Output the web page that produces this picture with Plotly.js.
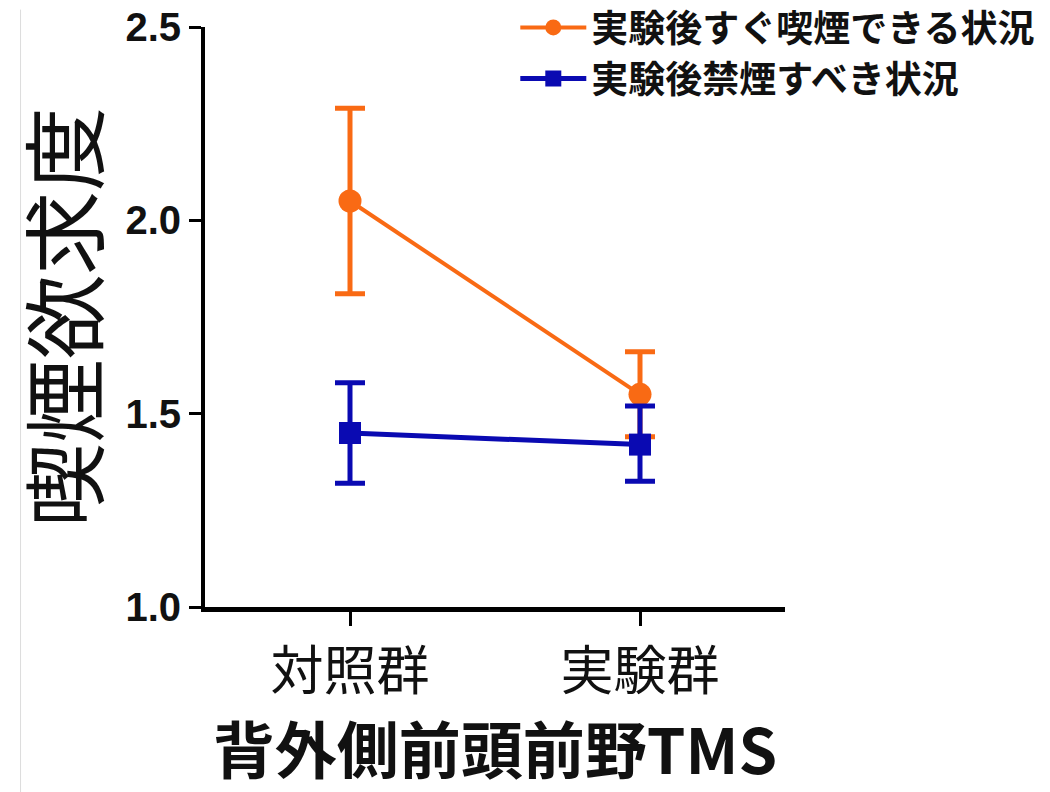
<!DOCTYPE html>
<html>
<head>
<meta charset="utf-8">
<script src="https://cdn.plot.ly/plotly-3.0.1.min.js"></script>
<style>html,body{margin:0;padding:0;background:#fff;}#chart{width:1050px;height:792px;}</style>
</head>
<body>
<div id="chart"></div>
<script>
const categories = ['対照群', '実験群'];
const seriesNames = ['実験後すぐ喫煙できる状況', '実験後禁煙すべき状況'];
const smokeNowMean = [2.05, 1.55];
const smokeNowErrUp = [0.24, 0.11];
const smokeNowErrDown = [0.24, 0.11];
const abstainMean = [1.45, 1.42];
const abstainErrUp = [0.13, 0.10];
const abstainErrDown = [0.13, 0.095];
const yTickVals = [1.0, 1.5, 2.0, 2.5];

const orange = '#F96A14';
const blue = '#0A0AB2';
const cjk = '"Noto Sans CJK JP", "Noto Sans", sans-serif';

const traces = [
  {
    type: 'scatter', mode: 'lines+markers', name: seriesNames[0],
    x: [0, 1], y: smokeNowMean,
    line: {color: orange, width: 4},
    marker: {color: orange, size: 23, symbol: 'circle'},
    error_y: {type: 'data', symmetric: false, array: smokeNowErrUp, arrayminus: smokeNowErrDown,
              color: orange, thickness: 5, width: 15}
  },
  {
    type: 'scatter', mode: 'lines+markers', name: seriesNames[1],
    x: [0, 1], y: abstainMean,
    line: {color: blue, width: 5},
    marker: {color: blue, size: 22, symbol: 'square'},
    error_y: {type: 'data', symmetric: false, array: abstainErrUp, arrayminus: abstainErrDown,
              color: blue, thickness: 5, width: 15}
  }
];

const layout = {
  width: 1050, height: 792,
  margin: {l: 205, r: 265, t: 27, b: 185, autoexpand: false},
  paper_bgcolor: '#fff', plot_bgcolor: '#fff',
  showlegend: true,
  legend: {
    x: 0.535, y: 1.052, xanchor: 'left', yanchor: 'top',
    font: {family: cjk, size: 37, color: '#111', weight: 700},
    bgcolor: 'rgba(0,0,0,0)', itemwidth: 66, tracegroupgap: 0
  },
  xaxis: {
    range: [-0.5, 1.5],
    tickmode: 'array', tickvals: [0, 1], ticktext: categories,
    showgrid: false, zeroline: false,
    showline: true, linecolor: '#000', linewidth: 5,
    ticks: 'outside', ticklen: 14, tickwidth: 3, tickcolor: '#000',
    tickfont: {family: cjk, size: 53, color: '#111'},
    title: {text: '背外側前頭前野TMS', font: {family: cjk, size: 62, color: '#111', weight: 700}, standoff: 52}
  },
  yaxis: {
    range: [1.0, 2.5],
    tickmode: 'array', tickvals: yTickVals, ticktext: yTickVals.map(v => v.toFixed(1)),
    showgrid: false, zeroline: false,
    showline: true, linecolor: '#000', linewidth: 4,
    ticks: 'outside', ticklen: 12, tickwidth: 3, tickcolor: '#000',
    tickfont: {family: '"Liberation Sans", Arial, sans-serif', size: 40, color: '#111', weight: 700},
    title: {text: '喫煙欲求度', font: {family: cjk, size: 84, color: '#111'}}
  },
  shapes: [
    {type: 'line', xref: 'paper', yref: 'paper', x0: -0.318, x1: -0.318, y0: -0.32, y1: 1.03,
     line: {color: '#dcdcdc', width: 1}}
  ]
};

Plotly.newPlot('chart', traces, layout, {displayModeBar: false, staticPlot: true});
</script>
</body>
</html>
